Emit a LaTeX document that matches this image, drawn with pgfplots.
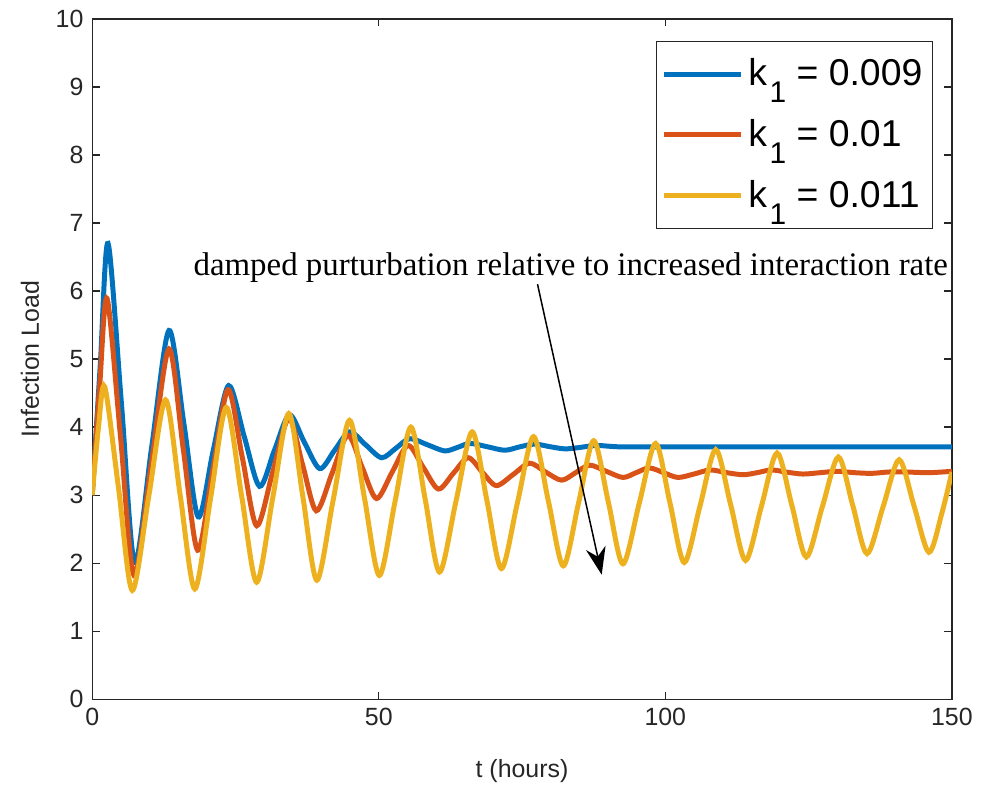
\documentclass[border=0pt]{standalone}
\usepackage{fontspec}
\setmainfont{Liberation Sans}
\newfontfamily\timesfont{Liberation Serif}
\usepackage{pgfplots}
\pgfplotsset{compat=1.18}
\usetikzlibrary{arrows.meta}
\definecolor{mblue}{rgb}{0,0.447,0.741}
\definecolor{mred}{rgb}{0.85,0.325,0.098}
\definecolor{myellow}{rgb}{0.929,0.694,0.125}
\definecolor{axgray}{rgb}{0.15,0.15,0.15}
\newcommand{\kone}{k\kern1pt\raisebox{-6.8pt}{\fontsize{12}{12}\selectfont 1}}
\begin{document}
\begin{tikzpicture}
\useasboundingbox (-37pt,-34.7pt) rectangle (360.7pt,280.6pt);
\begin{axis}[
  scale only axis, width=345pt, height=273pt,
  xmin=0, xmax=150, ymin=0, ymax=10,
  xtick={0,50,100,150}, ytick={0,1,...,10},
  tick align=inside, major tick length=3pt,
  axis line style={axgray, line width=0.5pt},
  tick style={axgray, line width=0.5pt},
  ticklabel style={font=\fontsize{10}{12}\selectfont, text=axgray},
  /pgf/number format/assume math mode=true,
  xlabel={t (hours)}, ylabel={Infection Load},
  label style={font=\fontsize{10}{12}\selectfont, text=axgray},
  xlabel style={at={([yshift=-28.7pt]axis description cs:0.5,0)}, anchor=center},
  ylabel style={at={([xshift=-25pt]axis description cs:0,0.5)}, anchor=center},
  legend cell align=left,
  legend image code/.code={\draw[#1, line width=2pt] (0pt,0pt) -- (31pt,0pt);},
  legend style={at={(rel axis cs:0.978,0.968)}, anchor=north east,
    font=\fontsize{15}{18}\selectfont, draw=axgray, line width=0.5pt,
    inner xsep=2pt, inner ysep=5pt, row sep=8pt},
]
\addplot[mblue, line width=2pt, smooth] coordinates {
(0,3.0) (1.4,4.9) (2.76,6.70) (5.1,4.35) (7.4,2.01) (10.4,3.72) (13.4,5.42)
(16.0,4.05) (18.5,2.68) (21.1,3.65) (23.8,4.61) (26.5,3.87) (29.2,3.13)
(31.8,3.66) (34.4,4.18) (37.0,3.78) (39.7,3.39) (42.3,3.66) (44.9,3.93)
(47.7,3.74) (50.5,3.55) (53.0,3.69) (55.4,3.83) (58.5,3.74) (61.5,3.65)
(63.7,3.70) (65.9,3.76) (69.0,3.71) (72.0,3.66) (74.6,3.71) (77.2,3.75)
(80,3.71) (82.5,3.68) (85,3.70) (88,3.73) (92,3.71) (100,3.71) (120,3.71) (150,3.71)
};
\addlegendentry{\kone\ = 0.009}
\addplot[mred, line width=2pt, smooth] coordinates {
(0,3.0) (1.3,4.6) (2.6,5.89) (4.95,3.85) (7.3,1.82) (10.35,3.48) (13.4,5.15)
(15.9,3.67) (18.4,2.19) (21.05,3.37) (23.7,4.55) (26.2,3.55) (28.7,2.55)
(31.5,3.34) (34.3,4.13) (36.7,3.45) (39.1,2.77) (41.85,3.32) (44.6,3.88)
(47.1,3.41) (49.6,2.95) (52.35,3.34) (55.1,3.73) (57.75,3.41) (60.4,3.09)
(63.0,3.32) (65.6,3.55) (68.05,3.34) (70.5,3.14) (73.4,3.30) (76.3,3.47)
(79.1,3.34) (81.9,3.22) (84.35,3.33) (86.8,3.44) (89.7,3.35) (92.6,3.26)
(94.9,3.33) (97.2,3.40) (99.7,3.33) (102.2,3.26) (105,3.31) (107.8,3.37)
(110.7,3.33) (113.6,3.30) (116,3.33) (118.5,3.37) (121,3.34) (124,3.31)
(127,3.33) (130,3.35) (133,3.33) (136,3.32) (139,3.34) (142,3.34) (146,3.33) (150,3.35)
};
\addlegendentry{\kone\ = 0.01}
\addplot[myellow, line width=2pt, smooth] coordinates {
(0,3.0) (1.1,4.0) (2.2,4.59) (4.6,3.1) (7.0,1.60) (9.9,3.0) (12.8,4.40)
(15.35,3.0) (17.9,1.62) (20.65,2.95) (23.4,4.29) (26.05,3.0) (28.7,1.72)
(31.5,2.96) (34.3,4.20) (36.75,2.98) (39.2,1.75) (42.05,2.93) (44.9,4.10)
(47.5,2.96) (50.1,1.82) (52.85,2.91) (55.6,4.00) (58.1,2.94) (60.6,1.87)
(63.45,2.90) (66.3,3.93) (68.85,2.93) (71.4,1.92) (74.2,2.89) (77.0,3.86)
(79.6,2.91) (82.2,1.96) (84.85,2.88) (87.5,3.80) (90.05,2.90) (92.6,1.99)
(95.45,2.88) (98.3,3.76) (100.8,2.89) (103.3,2.01) (106.05,2.84) (108.8,3.67)
(111.4,2.86) (114.0,2.04) (116.75,2.83) (119.5,3.62) (122.05,2.86) (124.6,2.09)
(127.4,2.83) (130.2,3.56) (132.7,2.85) (135.2,2.14) (138.0,2.83) (140.8,3.52)
(143.4,2.84) (146.0,2.16) (148.3,2.75) (150,3.34)
};
\addlegendentry{\kone\ = 0.011}
\node[font=\timesfont\fontsize{13.2}{15}\selectfont, text=black] at (axis cs:83.5,6.35)
  {damped purturbation relative to increased interaction rate};
\draw[black, line width=0.6pt, -{Stealth[length=11pt, width=8pt]}]
  (axis cs:77.7,6.10) -- (axis cs:88.9,1.83);
\end{axis}
\end{tikzpicture}
\end{document}
